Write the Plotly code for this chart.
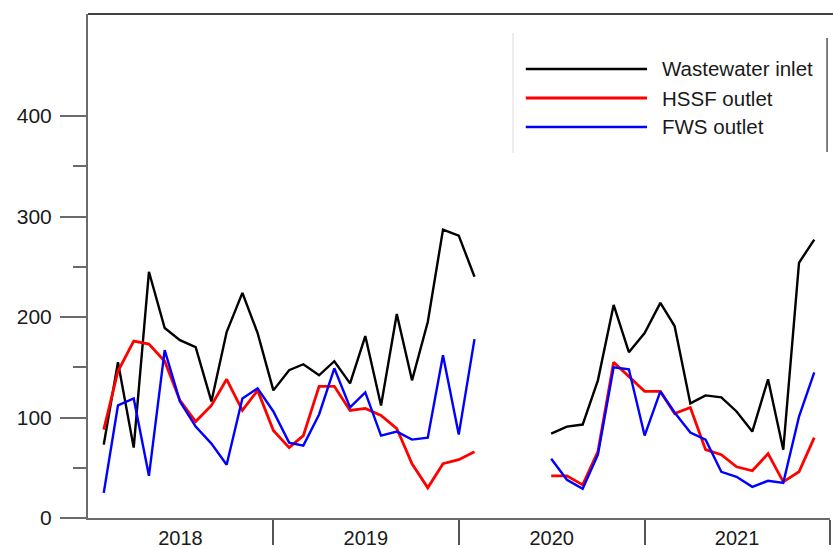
import plotly.graph_objects as go
import pandas as pd

# Monthly sampling dates (Feb 2018 - Dec 2021); no sampling Mar-Jun 2020
months = [d.strftime("%Y-%m-%d") for d in pd.date_range("2018-02-01", "2021-12-01", freq="MS")]

inlet = [73, 155, 70, 245, 189, 177, 170, 116, 185, 224, 184, 127,
         147, 153, 142, 156, 134, 181, 112, 203, 137, 195, 287, 281,
         240, None, None, None, None,
         84, 91, 93, 137, 212, 165,
         184, 214, 191, 114, 122, 120, 106, 86, 138, 68, 254, 277]
hssf = [88, 146, 176, 173, 156, 117, 96, 112, 138, 107, 127, 87,
        70, 82, 131, 131, 107, 109, 102, 89, 54, 30, 54, 58,
        66, None, None, None, None,
        42, 42, 33, 66, 155, 141,
        126, 126, 104, 110, 68, 63, 51, 47, 64, 36, 46, 80]
fws = [25, 112, 119, 42, 167, 116, 91, 74, 53, 119, 129, 106,
       75, 72, 103, 149, 110, 125, 82, 86, 78, 80, 162, 83,
       178, None, None, None, None,
       59, 38, 29, 63, 150, 148,
       82, 126, 105, 85, 78, 46, 41, 31, 37, 35, 101, 145]

series_names = ["Wastewater inlet", "HSSF outlet", "FWS outlet"]
series_colors = ["#000000", "#ff0000", "#0000ff"]
series_widths = [2.4, 2.8, 2.4]

year_labels = ["2018", "2019", "2020", "2021"]
year_mid = ["2018-07-02", "2019-07-02", "2020-07-02", "2021-07-02"]
year_bounds = ["2019-01-01", "2020-01-01", "2021-01-01", "2022-01-01"]
y_major = [0, 100, 200, 300, 400]
y_minor = [50, 150, 250, 350]

FONT = "Liberation Sans, Arial, sans-serif"
TXT = "#1a1a1a"
AX = "#6a6a6a"

fig = go.Figure()
for name, vals, col, w in zip(series_names, [inlet, hssf, fws], series_colors, series_widths):
    fig.add_trace(go.Scatter(x=months, y=vals, mode="lines", name=name,
                             line=dict(color=col, width=w), connectgaps=False,
                             showlegend=False))

fig.update_layout(
    width=833, height=548,
    margin=dict(l=88, r=3, t=14, b=30, autoexpand=False),
    paper_bgcolor="white", plot_bgcolor="white",
    font=dict(family=FONT, size=20, color=TXT),
)

fig.update_xaxes(
    type="date", range=["2018-01-01", "2022-01-01"], automargin=False,
    tickmode="array", tickvals=year_mid, ticktext=year_labels,
    ticks="", ticklabelstandoff=1,
    tickfont=dict(family=FONT, size=20, color=TXT),
    showline=True, linecolor=AX, linewidth=2,
    showgrid=False, zeroline=False,
    minor=dict(tickmode="array", tickvals=year_bounds, ticks="outside",
               ticklen=25, tickwidth=1.5, tickcolor="#555555", showgrid=False),
)
fig.update_yaxes(
    range=[0, 501.5], automargin=False,
    tickmode="array", tickvals=y_major, ticktext=[str(v) for v in y_major],
    ticks="outside", ticklen=26, tickwidth=1.5, tickcolor=AX,
    ticklabelstandoff=4,
    tickfont=dict(family=FONT, size=21, color=TXT),
    showline=True, linecolor=AX, linewidth=2,
    showgrid=False, zeroline=False,
    minor=dict(tickmode="array", tickvals=y_minor, ticks="outside",
               ticklen=13, tickwidth=1.5, tickcolor=AX, showgrid=False),
)

# top frame line
fig.add_shape(type="line", xref="paper", yref="paper", x0=0, x1=1.004, y0=1, y1=1,
              line=dict(color="#000000", width=1.5))

# manual legend (long line samples, as in the reference)
leg_rows = [0.8909, 0.8333, 0.7758]
for name, col, w, yy in zip(series_names, series_colors, series_widths, leg_rows):
    fig.add_shape(type="line", xref="paper", yref="paper", x0=0.590, x1=0.7534,
                  y0=yy, y1=yy, line=dict(color=col, width=w + 0.2))
    fig.add_annotation(xref="paper", yref="paper", x=0.771, y=yy, text=name,
                       showarrow=False, xanchor="left", yanchor="middle",
                       font=dict(family=FONT, size=20.5, color=TXT))
fig.add_shape(type="line", xref="paper", yref="paper", x0=0.5728, x1=0.5728,
              y0=0.7242, y1=0.9623, line=dict(color="#dddddd", width=1))
fig.add_shape(type="line", xref="paper", yref="paper", x0=0.9960, x1=0.9960,
              y0=0.7262, y1=0.9524, line=dict(color="#000000", width=1))

fig.write_html("out.html", config={"displayModeBar": False},
               post_script="document.body.style.margin='0px';")
